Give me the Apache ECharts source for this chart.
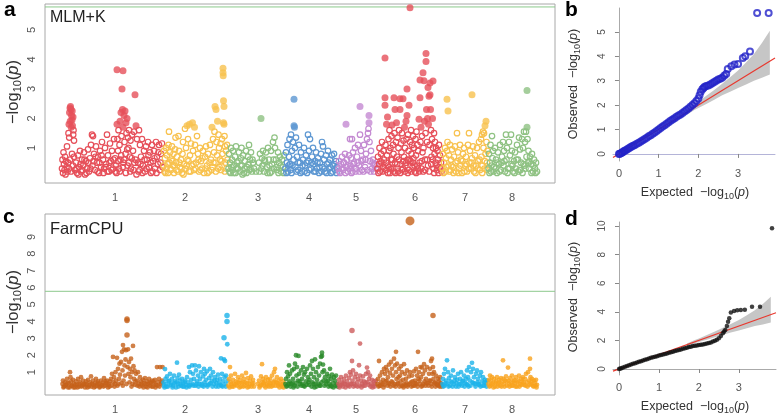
<!DOCTYPE html>
<html><head><meta charset="utf-8">
<script src="https://cdn.jsdelivr.net/npm/echarts@6/dist/echarts.min.js"></script>
<style>html,body{margin:0;padding:0;background:#fff}#c{width:778px;height:415px}</style>
</head><body><div id="c"></div>
<script>
// ---------- data ----------
const chromNames = ['1','2','3','4','5','6','7','8'];
const chromLabelPos = [70,140,213,264,311,370,420,467];   // genome axis units
const genomeRange = [0,510];
const threshold = 5.78;
const mlmColors = ['#E6505A','#F8C24F','#8FC283','#5D97D2','#C48AD2','#E6505A','#F8C24F','#8FC283'];
const farmColors = ['#C5621A','#1BB3EA','#F9A21D','#288A28','#CD5C5C','#C5621A','#1BB3EA','#F9A21D'];

// MLM+K points (flat x,y pairs)
const mlmChr1 = [17,0.3,17.5,0.6,18,0.15,18.5,0.85,19,0.45,19.5,0.25,20,0.7,20.5,0.1,21,0.55,21.5,0.35,22,1.05,22.5,0.2,23,0.5,
23.5,1.5,24,1.8,24.5,2.2,25,2.35,25.5,2.4,26,2.3,26.5,2.1,27,1.95,27.5,1.75,28,2.05,28.5,1.6,24.2,1.35,25.2,1.9,26.2,1.7,27.2,2.25,28.2,1.45,29,1.25,
24,0.3,25,0.6,26,0.2,27,0.8,28,0.4,29,0.7,30,0.25,
31,0.5,32,0.15,33,0.75,34,0.35,35,0.9,36,0.2,37,0.6,38,0.4,39,0.85,40,0.1,41,0.55,42,0.3,43,0.95,44,0.2,45,0.65,46,1.1,47,1.45,47.5,0.4,48,1.4,49,0.8,50,0.25,51,1.05,52,0.5,53,0.7,54,0.15,55,0.9,56,0.35,57,1.2,58,0.6,59,0.3,60,1.0,61,0.45,62,1.45,63,0.75,64,0.2,65,1.15,66,0.55,67,0.9,68,0.3,69,1.3,70,0.65,
31.5,0.3,33.5,0.1,35.5,0.45,37.5,0.25,39.5,0.6,41.5,0.15,43.5,0.5,45.5,0.3,48.5,0.55,50.5,0.7,52.5,0.2,54.5,0.5,56.5,0.75,58.5,0.15,60.5,0.35,62.5,0.2,64.5,0.5,66.5,0.25,68.5,0.6,70.5,0.2,
71,0.4,72,3.65,72,1.8,72.5,1.3,73,0.9,73.5,1.6,74,0.3,74.5,1.1,75,1.9,75.5,0.6,76,2.2,76.5,1.4,77,3.0,77.5,2.3,78,3.62,78,1.7,78.5,0.5,79,2.1,79.5,1.2,80,2.25,80.5,0.8,81,1.85,81.5,1.5,82,2.0,82.5,0.4,83,1.35,83.5,1.0,84,1.6,85,0.7,85.5,1.25,86,0.3,87,1.45,88,0.9,89,1.55,90,2.8,90.5,0.6,91,1.75,92,1.3,
71.5,0.15,73.2,0.55,74.8,0.2,76.2,0.75,77.8,0.35,79.2,0.6,80.8,0.15,82.2,0.95,83.8,0.5,85.2,0.2,86.8,0.65,88.5,0.25,89.5,0.5,91.5,0.1,
93,0.5,94,1.6,94.5,0.25,95,1.1,96,0.7,97,1.3,98,0.4,99,0.9,100,0.2,101,1.05,102,0.6,103,1.2,104,0.35,105,0.85,106,0.15,107,1.1,108,0.55,109,0.9,110,0.3,111,1.2,112,0.7,113,0.45,114,1.1,115,0.25,116,0.8,117,1.15,
93.5,0.2,95.5,0.45,97.5,0.15,99.5,0.6,101.5,0.3,103.5,0.75,105.5,0.5,107.5,0.2,109.5,0.65,111.5,0.15,113.5,0.85,115.5,0.5,117.5,0.35];
const mlmChr2 = [118.5,0.4,119,0.9,119.5,0.2,120,0.65,121,1.0,121.5,0.3,122,0.75,123,0.15,123.5,1.1,124,1.55,124.5,0.5,125,0.85,126,0.25,126.5,0.6,127,1.05,128,0.4,128.5,0.8,129,0.15,130,0.95,130.5,1.35,131,0.5,132,0.7,133,0.2,133.5,1.4,134,0.9,135,0.35,136,0.6,137,0.15,137.5,0.8,138,1.2,139,0.45,140,1.65,140.5,0.3,141,1.0,142,1.75,142.5,0.6,143,1.3,144,0.2,144.5,1.8,145,0.75,146,1.15,147,0.4,147.5,1.85,148,0.9,149,0.25,149.5,1.7,150,1.1,151,0.5,152,1.4,153,0.8,154,0.2,155,1.0,156,0.55,157,0.3,158,0.9,159,0.15,160,0.7,161,1.05,162,0.4,163,0.8,164,0.2,165,1.1,166,0.6,167,1.7,167.5,0.35,168,1.3,169,0.85,169.5,1.55,170,2.4,170.5,0.5,171,2.3,171.5,1.2,172,0.75,172.5,1.9,173,0.3,173.5,1.45,174,1.0,175,0.6,175.5,1.15,176,0.25,177,1.3,177.5,0.8,178,3.7,178,3.55,178.2,3.45,178.5,2.6,178.5,1.85,179,2.4,179,1.8,179.5,1.4,180,1.05,180.5,0.5,181,0.9,181.5,0.3,182,1.1,182.5,0.6,
120.5,0.15,122.5,0.45,125.5,0.3,127.5,0.55,129.5,0.4,131.5,0.25,134.5,0.5,136.5,0.3,138.5,0.1,141.5,0.4,143.5,0.55,145.5,0.2,148.5,0.45,150.5,0.3,153.5,0.6,155.5,0.25,157.5,0.65,160.5,0.3,162.5,0.15,164.5,0.5,166.5,0.25,168.5,0.5,170.8,0.2,174.5,0.35,176.5,0.55,179.8,0.2];
const mlmChr3 = [183.5,0.3,184,0.8,185,0.5,185.5,0.15,186,1.0,187,0.6,187.5,0.25,188,0.9,189,0.4,190,0.7,190.5,0.15,191,1.05,192,0.5,193,0.3,194,0.85,195,0.2,196,0.65,196.5,1.0,197,0.4,198,0.75,199,0.15,200,0.55,201,0.9,202,0.35,203,0.7,204,1.1,204.5,0.25,205,0.6,206,0.85,207,0.2,208,0.5,209,0.3,211,0.2,
214,0.5,215,0.8,216,2.0,216.5,0.3,217,0.65,218,0.9,219,0.2,220,0.55,221,0.85,222,0.35,223,1.0,224,0.6,225,0.15,226,0.9,227,0.45,228,1.2,229,0.3,229.5,1.35,230,1.0,231,0.6,232,0.25,233,0.85,234,0.5,235,0.7,236,0.2,237,0.6,238,0.35,239,0.75,
184.5,0.2,186.5,0.35,188.5,0.15,191.5,0.3,193.5,0.55,195.5,0.4,197.5,0.1,199.5,0.3,201.5,0.15,203.5,0.45,205.5,0.3,207.5,0.6,214.5,0.2,217.5,0.4,219.5,0.6,222.5,0.15,224.5,0.4,226.5,0.2,228.5,0.6,231.5,0.35,233.5,0.15,235.5,0.4,238.5,0.15];
const mlmChr4 = [240.5,0.3,241,0.85,242,0.5,242.5,1.1,243,0.2,244,0.7,244.5,1.3,245,0.45,246,1.45,246.5,0.15,247,0.9,248,1.2,248.5,0.6,249,2.65,249,1.75,249.5,1.7,250,1.0,250.5,0.35,251,1.35,252,0.7,253,0.25,254,1.1,255,0.5,256,0.85,257,0.2,258,0.6,259,1.0,260,0.4,261,0.75,262,0.15,263,1.45,263.5,0.55,264,0.9,265,1.3,266,0.3,267,0.7,268,1.0,269,0.2,270,0.55,271,0.85,272,0.3,273,0.65,274,0.15,275,0.5,276,0.8,277,1.2,277.5,0.35,278,1.05,279,0.6,280,0.2,281,0.75,282,0.45,283,0.9,284,0.3,285,0.6,286,0.15,287,0.75,288,0.4,289,0.8,290,0.25,291,0.55,292,0.35,
241.5,0.15,243.5,0.4,245.5,0.25,247.5,0.4,251.5,0.2,253.5,0.5,255.5,0.15,257.5,0.4,259.5,0.2,261.5,0.5,264.5,0.25,266.5,0.5,268.5,0.45,270.5,0.2,272.5,0.5,274.5,0.35,276.5,0.2,279.5,0.3,281.5,0.15,283.5,0.5,285.5,0.35,287.5,0.2,289.5,0.45,291.5,0.15];
const mlmChr5 = [293.5,0.3,294,0.55,295,0.15,296,0.45,297,0.7,298,0.25,299,0.5,300,0.8,301,1.8,301.5,0.35,302,0.6,303,0.2,304,0.75,305,1.3,305.5,0.4,306,0.65,307,1.3,307.5,0.2,308,0.85,309,0.5,310,1.0,311,0.3,312,0.7,313,1.1,314,0.4,315,2.4,315,1.45,316,0.9,317,0.25,318,0.6,319,1.1,320,0.35,321,0.8,322,1.3,323,1.5,323.5,1.65,324,2.1,324,1.85,324.5,1.2,325,0.55,326,0.9,327,0.3,328,0.6,329,0.2,330,0.45,331,0.3,
294.5,0.2,296.5,0.3,298.5,0.5,300.5,0.15,302.5,0.4,304.5,0.3,306.5,0.15,308.5,0.45,310.5,0.2,312.5,0.5,314.5,0.2,316.5,0.55,318.5,0.2,320.5,0.6,322.5,0.25,325.5,0.2,327.5,0.5,329.5,0.4];
const mlmChr6 = [332.5,0.3,333,0.7,334,0.45,334.5,1.0,335,0.2,336,0.8,336.5,0.5,337,1.2,338,0.35,338.5,0.9,339,0.6,340,4.05,340,2.7,340,2.45,340.5,1.1,341,0.25,341.5,1.8,342,0.75,342.5,2.05,343,0.4,343.5,1.3,344,0.9,344.5,1.6,345,0.15,345.5,1.0,346,0.6,346.5,1.4,347,1.78,347.5,0.3,348,1.1,348.5,0.8,349,2.7,349.5,1.5,350,0.5,350,2.3,351,1.2,351.5,1.85,352,0.7,352.5,1.35,353,0.2,353.5,1.0,354,1.6,355,2.67,355,2.3,355.5,0.45,356,1.15,356.5,0.85,357,1.5,358,2.67,358,0.3,358.5,1.25,359,0.7,359.5,1.7,360,1.0,360.5,0.4,361,1.9,361.5,1.3,362,3.0,362,2.1,362.5,0.6,363,1.45,363.5,0.9,364,2.45,364,0.25,365,5.75,365,1.2,365.5,0.55,366,1.6,366.5,0.8,367,1.1,367.5,0.35,368,1.4,368.5,0.65,369,1.0,370,0.2,370.5,1.3,371,0.75,371.5,1.55,372,0.4,372.5,1.1,373,0.9,374,1.97,374.5,0.5,375,3.3,375,2.7,375.5,1.2,376,1.7,376.5,0.3,377,1.4,377.5,0.85,378,3.55,378.5,1.0,379,3.28,379.5,1.9,380,0.6,380.5,1.5,381,4.2,381,3.93,381.5,2.3,382,1.2,382.5,2.0,383,3.05,383,0.4,383.5,1.8,384,2.75,384.5,1.1,385,3.2,385,2.8,385.5,2.3,386,1.6,386.5,0.7,387,1.3,387.5,2.0,388,3.27,388,1.0,388.5,0.3,389,1.5,389.5,0.8,390,1.2,390.5,0.5,391,1.0,392,0.25,392.5,0.9,393,0.6,394,1.1,394.5,0.35,395,0.75,396,0.5,396.5,0.2,
333.5,0.15,335.5,0.55,337.5,0.2,339.5,0.3,341.2,0.5,342.8,0.15,344.2,0.35,345.8,0.3,347.2,0.6,348.8,0.2,350.5,0.15,352.2,0.45,353.8,0.6,355.2,0.15,356.8,0.25,358.2,0.55,359.8,0.2,361.2,0.5,362.8,0.15,364.5,0.6,366.2,0.2,367.8,0.5,369.5,0.4,371.2,0.15,372.8,0.3,374.2,0.2,376.8,0.55,378.2,0.2,380.2,0.25,382.2,0.6,384.2,0.2,386.2,0.45,387.8,0.6,389.2,0.15,391.5,0.4,393.5,0.15,395.5,0.3];
const mlmChr7 = [397.5,0.3,398,0.8,399,0.5,400,1.0,400.5,0.2,401,0.65,402,2.65,402,0.9,402.5,1.2,403,2.25,403.5,0.4,404,0.75,405,1.1,405.5,0.25,406,0.6,407,0.95,408,0.35,409,0.7,410,1.05,411,0.2,412,1.5,412.5,0.55,413,0.85,414,0.3,415,1.1,416,0.6,417,0.15,418,0.8,419,1.0,420,0.4,421,0.7,422,0.2,423,1.1,424,1.5,424.5,0.5,425,0.9,426,0.3,427,2.8,427,0.65,428,1.05,429,0.2,430,0.75,431,0.4,432,1.0,433,0.55,434,1.2,435,0.25,436,1.3,436.5,0.7,437,1.45,437.5,0.4,438,1.55,438.5,1.0,439,1.5,439.5,0.3,440,1.75,440.5,0.8,441,1.9,441.5,1.2,442,0.5,442.5,0.9,
398.5,0.15,401.5,0.35,404.5,0.2,406.5,0.4,408.5,0.15,410.5,0.5,413.5,0.15,415.5,0.4,417.5,0.55,419.5,0.2,421.5,0.45,423.5,0.3,426.5,0.5,428.5,0.4,430.5,0.15,432.5,0.3,434.5,0.6,437.2,0.15,439.8,0.55,441.8,0.25];
const mlmChr8 = [443.5,0.3,444,0.8,445,0.5,445.5,1.1,446,0.2,447,1.4,447.5,0.65,448,0.9,449,0.35,450,1.0,451,0.6,452,0.15,453,0.85,454,0.45,455,1.1,456,0.25,457,0.7,458,1.2,458.5,0.4,459,0.9,460,0.2,461,1.45,461.5,0.6,462,1.0,463,0.3,464,1.2,465,0.75,466,1.45,466.5,0.45,467,0.9,468,0.2,469,0.55,470,0.85,471,0.3,472,1.1,473,0.6,474,1.35,474.5,0.25,475,0.95,476,0.5,477,1.3,477.5,0.15,478,1.0,479,1.55,479.5,0.4,480,1.2,481,1.55,481.5,0.7,482,2.95,482,1.7,482.5,1.3,483,0.5,483.5,0.9,484,0.3,485,0.7,486,0.45,487,0.8,488,0.2,489,0.6,490,0.3,491,0.5,492,0.2,
444.5,0.15,446.5,0.4,448.5,0.2,450.5,0.3,452.5,0.5,454.5,0.2,456.5,0.5,459.5,0.55,462.5,0.15,464.5,0.3,467.5,0.4,469.5,0.15,471.5,0.6,473.5,0.2,475.5,0.25,478.5,0.45,480.5,0.3,484.5,0.55,486.5,0.15,488.5,0.4,490.5,0.15];

// FarmCPU points (flat x,y pairs)
const farmChr1 = [17.5,0.3,18,0.5,19,0.15,20,0.4,21,0.25,22,0.6,23,0.1,24,0.35,25,1.0,25.5,0.7,26,0.45,27,0.2,28,0.55,29,0.3,30,0.1,31,0.45,32,0.25,33,0.6,34,0.15,35,0.4,36,0.7,37,0.2,38,0.5,39,0.3,40,0.1,41,0.45,42,0.25,43,0.55,44,0.15,45,0.4,46,0.75,47,0.3,48,0.5,49,0.1,50,0.35,51,0.6,52,0.2,53,0.45,54,0.3,55,0.15,56,0.5,57,0.25,58,0.4,59,0.65,60,0.2,61,0.35,62,0.5,63,0.1,64,0.3,65,0.45,66,0.6,66.5,0.2,67,0.9,68,1.9,68.5,0.4,69,0.7,70,0.3,70.5,1.0,71,0.5,72,1.85,72.5,0.2,73,1.2,74,0.6,74.5,1.5,75,0.85,76,1.6,76.5,0.35,77,2.2,77.5,1.1,78,2.6,78.5,0.5,79,2.35,79.5,1.4,80,0.8,80.5,1.75,81,2.3,81.5,0.3,82,4.15,82,4.05,82,3.2,82.5,1.3,83,2.35,83.5,0.9,84,1.6,84.5,0.4,85,1.2,85.5,0.7,86,1.8,87,1.0,87.5,0.3,88,2.55,88.5,1.35,89,0.6,89.5,1.1,90,0.25,91,0.9,92,0.5,93,1.0,94,0.3,95,0.7,96,0.45,97,0.2,98,0.55,99,0.35,100,0.65,101,0.15,102,0.45,103,0.3,104,0.6,105,0.2,106,0.4,107,0.5,108,0.15,109,0.35,110,0.55,111,0.25,112,1.3,113,0.4,114,0.6,115,1.3,116,0.3,117,0.5,117.5,1.3,
18.5,0.1,20.5,0.2,22.5,0.35,24.5,0.1,26.5,0.2,28.5,0.1,30.5,0.25,32.5,0.1,34.5,0.3,36.5,0.15,38.5,0.25,40.5,0.3,42.5,0.1,44.5,0.25,46.5,0.15,48.5,0.25,50.5,0.15,52.5,0.35,54.5,0.1,56.5,0.2,58.5,0.15,60.5,0.45,62.5,0.25,64.5,0.15,69.5,0.15,73.5,0.3,77.8,0.2,86.5,0.15,90.5,0.45,92.5,0.2,94.5,0.15,96.5,0.3,98.5,0.1,100.5,0.3,102.5,0.1,104.5,0.35,106.5,0.15,108.5,0.45,110.5,0.1,112.5,0.2,114.5,0.15,116.5,0.4];
const farmChr2 = [118.5,0.4,119,0.2,120,1.18,120.5,0.6,121,0.3,122,0.75,123,0.15,124,0.5,125,0.9,126,0.35,127,0.6,128,0.2,129,0.8,130,0.45,131,0.1,132,1.56,132.5,0.65,133,0.3,134,0.85,135,0.5,136,0.2,137,0.6,138,0.35,139,0.15,140,0.5,141,0.25,142,0.7,143,0.4,144,1.3,144.5,0.15,145,1.0,146,0.55,147,1.4,147.5,0.3,148,0.9,149,0.6,150,1.4,150.5,0.2,151,1.1,152,0.45,153,0.8,154,1.35,154.5,0.3,155,0.6,156,1.0,157,0.2,158,0.75,159,1.2,159.5,0.4,160,0.9,161,0.55,162,1.05,163,0.25,164,0.65,165,1.2,165.5,0.35,166,0.8,167,0.5,168,1.0,169,0.3,170,0.7,171,0.15,172,0.55,173,0.85,174,0.35,175,0.6,176,1.82,176.5,0.2,177,0.9,178,0.45,179,3.04,179,1.75,179.5,0.7,180,1.66,180.5,0.3,181,0.8,182,4.35,182,4.0,182.3,2.65,182.5,0.5,
119.5,0.1,121.5,0.15,123.5,0.45,125.5,0.25,127.5,0.1,129.5,0.35,131.5,0.4,133.5,0.15,135.5,0.3,137.5,0.15,139.5,0.4,141.5,0.1,143.5,0.2,145.5,0.25,148.5,0.2,151.5,0.3,153.5,0.15,156.5,0.3,158.5,0.15,160.5,0.25,162.5,0.15,164.5,0.3,167.5,0.15,169.5,0.5,171.5,0.35,173.5,0.15,175.5,0.25,177.5,0.15,180.8,0.15];
const farmChr3 = [183.5,0.2,184,0.6,185,1.3,185.5,0.4,186,0.8,187,0.15,188,0.55,189,0.3,190,0.9,191,0.45,192,0.2,193,0.7,194,0.35,195,0.55,196,0.15,197,0.8,198,0.4,199,0.6,200,0.2,201,0.95,202,0.35,203,0.65,204,0.15,205,0.5,206,0.75,207,0.3,208,0.55,209,0.15,
213,0.3,214,0.5,215,0.2,216,0.75,217,1.47,217.5,0.4,218,0.6,219,0.2,220,0.45,221,0.7,222,0.3,223,0.55,224,0.15,225,0.6,226,0.35,227,0.8,228,0.2,229,1.0,229.5,0.5,230,1.2,231,0.4,232,0.7,233,0.2,234,0.5,235,0.3,236,0.6,237,0.15,238,0.45,239,0.3,
184.5,0.1,186.5,0.3,188.5,0.15,190.5,0.25,192.5,0.4,194.5,0.1,196.5,0.35,198.5,0.15,200.5,0.4,202.5,0.1,204.5,0.3,206.5,0.15,208.5,0.35,214.5,0.1,216.5,0.25,218.5,0.35,220.5,0.1,222.5,0.2,224.5,0.35,226.5,0.15,228.5,0.4,230.5,0.2,232.5,0.35,234.5,0.1,236.5,0.25,238.5,0.1];
const farmChr4 = [240.5,0.3,241,0.6,242,1.0,242.5,0.2,243,0.75,244,1.4,244.5,0.45,245,0.9,246,0.3,247,1.1,248,0.6,249,1.2,249.5,0.2,250,1.5,251,2.0,251.5,0.8,252,1.3,253,0.5,253.5,1.96,254,0.9,255,0.3,256,1.1,257,0.6,258,1.3,258.5,0.2,259,0.85,260,1.0,261,0.45,262,1.2,263,0.7,264,0.25,265,1.4,266,0.9,267,1.66,267.5,0.4,268,1.2,269,0.7,270,1.76,270.5,0.3,271,1.0,272,0.55,273,1.3,274,0.8,275,1.5,275.5,0.2,276,1.9,277,2.15,277,1.96,277.5,1.0,278,1.45,278.5,0.5,279,1.1,280,0.7,281,0.3,282,0.9,283,0.5,284,0.75,285,1.2,285.5,0.2,286,0.6,287,0.85,288,0.35,289,0.7,290,0.5,291,0.8,292,0.3,
241.5,0.15,243.5,0.3,245.5,0.15,247.5,0.35,248.5,0.1,250.5,0.35,252.5,0.15,254.5,0.45,256.5,0.2,257.5,0.3,259.5,0.15,261.5,0.25,263.5,0.4,264.5,0.55,266.5,0.15,268.5,0.3,269.5,0.1,271.5,0.15,273.5,0.3,274.5,0.2,276.5,0.4,279.5,0.2,281.5,0.45,283.5,0.15,284.5,0.3,286.5,0.15,288.5,0.1,290.5,0.2,292.5,0.15];
const farmChr5 = [293.5,0.3,294,0.55,295,0.2,296,0.7,297,0.4,298,0.15,299,0.6,300,0.3,301,0.8,302,0.45,303,0.2,304,0.65,305,1.0,305.5,0.3,306,0.85,307,3.47,307,1.66,307.5,0.5,308,1.1,309,0.3,310,0.7,311,0.9,312,0.4,313,0.6,314,1.41,314.5,0.2,315,2.69,315,0.8,316,0.5,317,0.3,318,0.75,319,0.45,320,0.2,321,0.9,322,1.27,322.5,0.4,323,1.0,324,0.6,325,0.8,326,0.3,327,0.55,328,0.2,329,0.45,330,0.3,331,0.5,
294.5,0.1,296.5,0.25,298.5,0.35,300.5,0.1,302.5,0.25,304.5,0.15,306.5,0.3,308.5,0.15,310.5,0.2,312.5,0.15,316.5,0.1,318.5,0.2,320.5,0.4,323.5,0.25,325.5,0.15,327.5,0.1,329.5,0.15];
const farmChr6 = [332.5,0.3,333,0.6,334,1.66,334.5,0.2,335,0.8,336,0.4,337,1.0,338,0.55,339,1.2,339.5,0.25,340,0.9,341,1.3,341.5,0.5,342,1.1,343,0.7,344,1.45,344.5,0.3,345,0.95,346,1.6,346.5,0.45,347,1.2,348,0.8,349,1.8,349.5,0.3,350,1.4,351,2.2,351,1.0,351.5,0.6,352,1.5,353,0.35,354,1.2,355,0.8,356,1.35,356.5,0.2,357,1.0,358,0.55,359,1.47,359.5,0.3,360,0.9,361,0.6,362,1.1,363,0.25,364,0.75,365,9.94,365,1.0,366,0.4,367,0.8,368,0.2,369,1.05,370,0.5,371,1.2,371.5,0.3,372,0.8,373,2.2,373.5,0.6,374,1.0,375,0.3,375.5,1.3,376,0.7,377,1.27,377.5,0.2,378,0.9,379,1.47,379.5,0.45,380,1.1,381,0.6,382,1.3,383,0.35,384,0.9,385,1.2,385.5,0.5,386,1.66,386.5,0.3,387,1.8,387.5,0.9,388,4.35,388,1.3,388.5,0.6,389,1.0,390,0.4,391,0.8,392,0.25,393,0.6,394,0.45,395,0.7,396,0.3,
333.5,0.15,335.5,0.2,337.5,0.3,338.5,0.1,340.5,0.45,342.5,0.2,343.5,0.35,345.5,0.15,347.5,0.4,348.5,0.2,350.5,0.15,352.5,0.3,353.5,0.7,354.5,0.15,355.5,0.45,357.5,0.2,358.5,0.1,360.5,0.2,361.5,0.35,362.5,0.15,364.5,0.3,366.5,0.15,367.5,0.45,369.5,0.2,370.5,0.35,372.5,0.15,374.5,0.5,376.5,0.15,378.5,0.3,380.5,0.2,381.5,0.35,383.5,0.2,384.5,0.5,386.8,0.15,389.5,0.35,390.5,0.15,391.5,0.3,393.5,0.2,394.5,0.15,395.5,0.35,396.5,0.15];
const farmChr7 = [397.5,0.3,398,0.6,399,0.9,399.5,0.2,400,1.2,401,0.5,402,1.7,402.5,0.3,403,1.0,404,0.65,405,0.2,406,0.8,407,0.4,408,1.1,409,0.3,410,0.7,411,0.15,412,0.55,413,0.9,414,0.3,415,0.6,416,1.0,417,0.2,418,0.5,419,0.8,420,0.35,421,0.6,422,1.1,422.5,0.25,423,0.7,424,1.3,425,0.5,426,1.0,427,1.55,427.5,0.4,428,1.2,429,0.7,430,0.3,431,0.9,432,1.1,432.5,0.4,433,0.6,434,0.25,435,0.8,436,1.0,437,0.45,438,0.7,439,0.2,440,0.55,441,0.35,442,0.5,
398.5,0.15,400.5,0.35,403.5,0.15,405.5,0.45,407.5,0.15,409.5,0.5,411.5,0.35,413.5,0.15,415.5,0.3,417.5,0.45,419.5,0.15,421.5,0.3,423.5,0.15,425.5,0.2,428.5,0.35,430.5,0.15,433.5,0.3,435.5,0.15,437.5,0.2,439.5,0.4,441.5,0.15];
const farmChr8 = [443.5,0.3,444,0.55,445,0.8,445.5,0.2,446,0.5,447,0.7,448,0.35,449,0.6,450,0.15,451,0.45,452,0.7,453,0.3,454,0.55,455,0.2,456,0.65,457,0.4,458,1.7,458.5,0.6,459,0.3,460,0.5,461,0.75,462,0.2,463,1.27,463.5,0.5,464,0.3,465,0.65,466,0.4,467,0.8,468,0.2,469,0.55,470,0.35,471,0.7,472,0.15,473,0.5,474,0.8,475,0.3,476,0.6,477,0.45,478,0.7,479,0.25,480,0.6,481,0.9,482,0.4,483,1.0,484,0.5,485,1.8,485,1.2,485.5,0.7,486,0.3,487,0.6,488,0.2,489,0.5,490,0.35,491,0.55,492,0.25,
444.5,0.15,446.5,0.3,448.5,0.1,450.5,0.35,452.5,0.15,454.5,0.4,456.5,0.15,459.5,0.15,461.5,0.45,464.5,0.15,466.5,0.2,468.5,0.45,470.5,0.15,472.5,0.4,474.5,0.15,476.5,0.25,478.5,0.4,480.5,0.2,482.5,0.15,484.5,0.25,486.5,0.45,488.5,0.15,490.5,0.2,491.5,0.1];

// QQ plot (b) MLM+K
const qqExpB = [0,0.02,0.05,0.08,0.1,0.13,0.16,0.2,0.24,0.28,0.32,0.36,0.4,0.45,0.5,0.55,0.6,0.65,0.7,0.75,0.8,0.85,0.9,0.95,1.0,1.05,1.1,1.15,1.2,1.25,1.3,1.35,1.4,1.45,1.5,1.55,1.6,1.65,1.7,1.75,1.8,1.85,1.9,1.95,2.0,2.03,2.06,2.1,2.13,2.16,2.2,2.25,2.3,2.35,2.4,2.45,2.5,2.55,2.6,2.65,2.7,2.74,2.83,2.91,3.0,3.12,3.18,3.3,3.48,3.77];
const qqObsB = [0,0.01,0.03,0.06,0.08,0.12,0.14,0.18,0.22,0.26,0.3,0.33,0.37,0.42,0.46,0.51,0.56,0.61,0.66,0.72,0.77,0.83,0.88,0.94,1.0,1.06,1.12,1.18,1.24,1.3,1.36,1.41,1.46,1.52,1.57,1.62,1.68,1.74,1.8,1.86,1.93,2.0,2.08,2.17,2.27,2.4,2.55,2.65,2.7,2.75,2.78,2.8,2.85,2.9,2.95,3.0,3.05,3.08,3.12,3.2,3.28,3.48,3.59,3.66,3.69,3.93,4.0,4.2,5.78,5.78];
// QQ plot (d) FarmCPU
const qqExpD = [0,0.03,0.06,0.1,0.15,0.2,0.25,0.3,0.35,0.4,0.45,0.5,0.55,0.6,0.65,0.7,0.75,0.8,0.85,0.9,0.95,1.0,1.05,1.1,1.15,1.2,1.25,1.3,1.35,1.4,1.45,1.5,1.55,1.6,1.65,1.7,1.75,1.8,1.85,1.9,1.95,2.0,2.05,2.1,2.15,2.2,2.25,2.3,2.35,2.4,2.45,2.5,2.55,2.6,2.63,2.66,2.7,2.73,2.76,2.8,2.88,2.96,3.05,3.15,3.33,3.53,3.83];
const qqObsD = [0,0.03,0.06,0.1,0.16,0.21,0.26,0.31,0.36,0.41,0.46,0.51,0.55,0.6,0.64,0.69,0.74,0.79,0.82,0.86,0.9,0.94,0.97,1.01,1.05,1.09,1.13,1.17,1.21,1.25,1.29,1.33,1.37,1.41,1.45,1.49,1.53,1.56,1.6,1.63,1.65,1.67,1.69,1.72,1.75,1.78,1.82,1.86,1.92,1.98,2.05,2.15,2.3,2.5,2.62,2.72,3.0,3.3,3.55,3.95,4.05,4.1,4.12,4.15,4.35,4.35,9.85];
// confidence band (same for both QQ plots)
const bandX = [1.7,1.8,1.9,2.0,2.2,2.4,2.6,2.8,3.0,3.2,3.4,3.6,3.8];
const bandLow = [1.6,1.7,1.8,1.88,2.05,2.22,2.4,2.55,2.7,2.85,3.0,3.12,3.25];
const bandHigh = [1.78,1.9,2.02,2.14,2.38,2.62,2.88,3.14,3.42,3.75,4.1,4.55,5.05];
const qqRange = [-0.15, 3.93];

// ---------- build ----------
const FONT = '"Liberation Sans", Arial, Helvetica, sans-serif';
function pairs(flat){const o=[];for(let i=0;i<flat.length;i+=2)o.push([flat[i],flat[i+1]]);return o;}
const mlmData = [mlmChr1,mlmChr2,mlmChr3,mlmChr4,mlmChr5,mlmChr6,mlmChr7,mlmChr8].map(pairs);
const farmData = [farmChr1,farmChr2,farmChr3,farmChr4,farmChr5,farmChr6,farmChr7,farmChr8].map(pairs);
const zip = (a,b)=>a.map((v,i)=>[v,b[i]]);

const series = [];
const FILL_FROM = 1.7;
mlmData.forEach((d,i)=>{
  series.push({type:'scatter',xAxisIndex:0,yAxisIndex:0,silent:true,symbol:'circle',symbolSize:5.5,
    itemStyle:{color:'rgba(255,255,255,0)',borderColor:mlmColors[i],borderWidth:1.2,opacity:1},
    data:d.filter(p=>p[1]<FILL_FROM)});
  series.push({type:'scatter',xAxisIndex:0,yAxisIndex:0,silent:true,symbol:'circle',symbolSize:7,
    itemStyle:{color:mlmColors[i]},data:d.filter(p=>p[1]>=FILL_FROM)});
});
series.push({type:'line',xAxisIndex:0,yAxisIndex:0,silent:true,symbol:'none',
  lineStyle:{color:'#8CC98C',width:1},data:[[genomeRange[0],threshold],[genomeRange[1],threshold]],z:1});
farmData.forEach((d,i)=>{
  series.push({type:'scatter',xAxisIndex:1,yAxisIndex:1,silent:true,symbol:'circle',
    symbolSize:v=>v[1]>=9?9:(v[1]>=3?5.5:4.8),itemStyle:{color:farmColors[i]},data:d});
});
series.push({type:'line',xAxisIndex:1,yAxisIndex:1,silent:true,symbol:'none',
  lineStyle:{color:'#8CC98C',width:1},data:[[genomeRange[0],threshold],[genomeRange[1],threshold]],z:1});

function qqSeries(ax, exp, obs, pointStyle){
  const out=[];
  out.push({type:'custom',xAxisIndex:ax,yAxisIndex:ax,silent:true,z:1,clip:true,
    data:zip(bandX,bandHigh),
    renderItem:(params,api)=>{
      if(params.dataIndex!==0) return null;
      const pts=[];
      for(let i=0;i<bandX.length;i++) pts.push(api.coord([bandX[i],bandHigh[i]]));
      for(let i=bandX.length-1;i>=0;i--) pts.push(api.coord([bandX[i],bandLow[i]]));
      return {type:'polygon',shape:{points:pts},style:{fill:'#C6C6C6',stroke:null}};
    }});
  out.push({type:'line',xAxisIndex:ax,yAxisIndex:ax,silent:true,symbol:'none',
    lineStyle:{color:'#E8382E',width:1.2},data:[[qqRange[0],qqRange[0]],[qqRange[1],qqRange[1]]],z:2});
  out.push(Object.assign({type:'scatter',xAxisIndex:ax,yAxisIndex:ax,silent:true,data:zip(exp,obs),z:3},pointStyle));
  return out;
}
series.push(...qqSeries(2,qqExpB,qqObsB,{symbol:'circle',symbolSize:6,itemStyle:{color:'rgba(255,255,255,0)',borderColor:'#2323C8',borderWidth:2}}));
series.push(...qqSeries(3,qqExpD,qqObsD,{symbol:'circle',symbolSize:4.5,itemStyle:{color:'#111'}}));

const tickLbl = {color:'#555',fontSize:11,fontFamily:FONT};
function manhX(g){return {gridIndex:g,type:'value',min:genomeRange[0],max:genomeRange[1],
  axisLine:{show:false},axisTick:{show:false},splitLine:{show:false},
  axisLabel:Object.assign({},tickLbl,{customValues:chromLabelPos,margin:9,
    formatter:v=>{const k=chromLabelPos.indexOf(v);return k>=0?chromNames[k]:'';}})};}
function manhY(g,min,max,vals){return {gridIndex:g,type:'value',min:min,max:max,
  axisLine:{show:false},axisTick:{show:false},splitLine:{show:false},
  axisLabel:Object.assign({},tickLbl,{customValues:vals,rotate:90,margin:8,formatter:v=>String(v)})};}
function qqX(g,lineColor){return {gridIndex:g,type:'value',min:qqRange[0],max:qqRange[1],
  axisLine:{show:true,lineStyle:{color:lineColor,width:1}},
  axisTick:{show:true,customValues:[0,1,2,3],length:4,lineStyle:{color:'#888'}},splitLine:{show:false},
  axisLabel:Object.assign({},tickLbl,{customValues:[0,1,2,3],margin:7,formatter:v=>String(v)})};}
function qqY(g,min,max,vals){return {gridIndex:g,type:'value',min:min,max:max,
  axisLine:{show:true,lineStyle:{color:'#aaa',width:1}},
  axisTick:{show:true,customValues:vals,length:4,lineStyle:{color:'#888'}},splitLine:{show:false},
  axisLabel:Object.assign({},tickLbl,{customValues:vals,rotate:90,margin:6,fontSize:10,formatter:v=>String(v)})};}

function logText(x,y,prefix,size,rot){
  return {type:'text',x:x,y:y,rotation:rot?Math.PI/2:0,silent:true,
    style:{text:'{n|'+prefix+'−log}{s|10}{n|(}{i|p}{n|)}',align:'center',verticalAlign:'middle',
      rich:{n:{fontSize:size,fontFamily:FONT,fill:'#333',lineHeight:size+4},
            s:{fontSize:Math.round(size*0.68),fontFamily:FONT,fill:'#333',lineHeight:size*0.7,verticalAlign:'bottom'},
            i:{fontSize:size,fontFamily:FONT,fontStyle:'italic',fill:'#333',lineHeight:size+4}}}};
}
function label(x,y,t,size,bold){return {type:'text',x:x,y:y,silent:true,
  style:{text:t,fontSize:size,fontWeight:bold?'bold':'normal',fontFamily:FONT,fill:bold?'#000':'#222',verticalAlign:'top'}};}

const option = {
  animation:false,
  grid:[
    {left:45,top:4,width:510,height:179,show:true,borderColor:'#A8A8A8',borderWidth:1,backgroundColor:'transparent'},
    {left:45,top:214,width:510,height:182,show:true,borderColor:'#A8A8A8',borderWidth:1,backgroundColor:'transparent'},
    {left:613,top:8,width:162,height:153},
    {left:613,top:222,width:163,height:153}
  ],
  xAxis:[manhX(0),manhX(1),qqX(2,'#B4B4D8'),qqX(3,'#AAAAAA')],
  yAxis:[manhY(0,-0.19,5.88,[1,2,3,4,5]),manhY(1,-0.35,10.35,[1,2,3,4,5,6,7,8,9]),
         qqY(2,-0.29,5.98,[0,1,2,3,4,5]),qqY(3,-0.42,10.28,[0,2,4,6,8,10])],
  series:series,
  graphic:[
    label(4,0,'a',21,true),label(565,0,'b',21,true),label(3,207,'c',21,true),label(565,209,'d',21,true),
    label(50,10,'MLM+K',16,false),label(50,221,'FarmCPU',16.5,false),
    logText(13,92,'',16.5,true),logText(13,302,'',16.5,true),
    logText(574,84,'Observed  ',12.5,true),logText(574,297,'Observed  ',12.5,true),
    logText(695,193,'Expected  ',12.5,false),logText(695,407,'Expected  ',12.5,false)
  ]
};
const chart = echarts.init(document.getElementById('c'),null,{renderer:'canvas'});
chart.setOption(option);
</script></body></html>
